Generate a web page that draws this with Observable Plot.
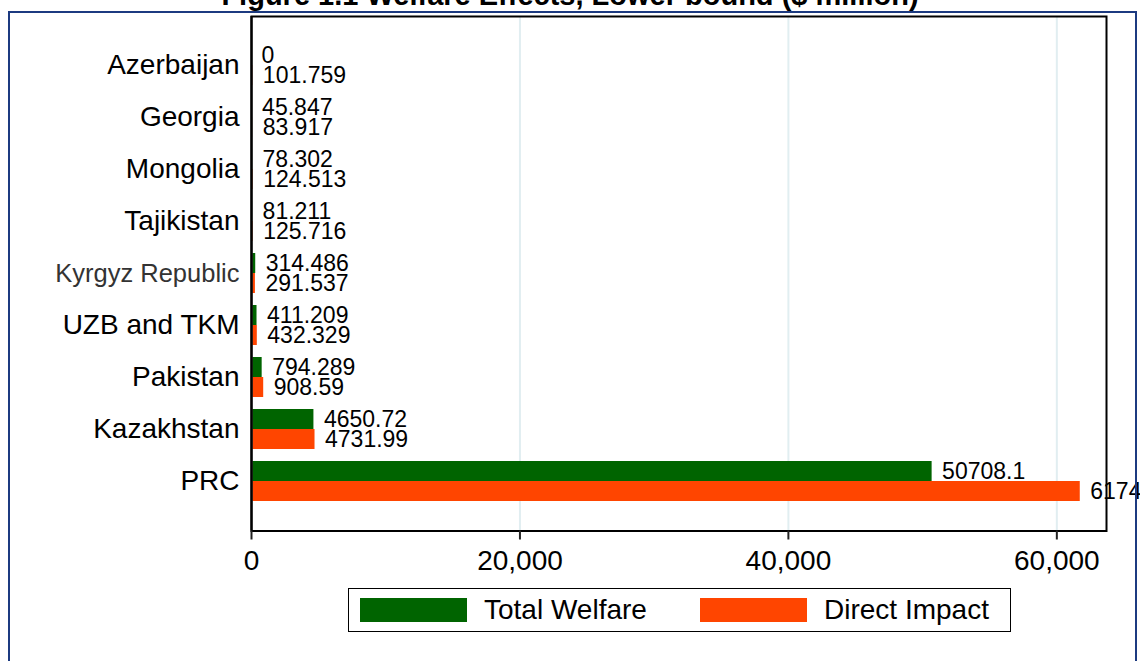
<!DOCTYPE html>
<html>
<head>
<meta charset="utf-8">
<script src="https://cdn.jsdelivr.net/npm/d3@7"></script>
<script src="https://cdn.jsdelivr.net/npm/@observablehq/plot@0.6"></script>
<style>
  html, body { margin: 0; padding: 0; background: #fff; overflow: hidden; }
  #wrap { position: relative; width: 1140px; height: 661px; overflow: hidden; font-family: "Liberation Sans", Arial, sans-serif; }
  #title { position: absolute; left: 0; width: 1140px; top: -19.5px; line-height: 29px; font-size: 29px; font-weight: bold; text-align: center; color: #000; white-space: nowrap; }
  #border { position: absolute; left: 8px; top: 11px; width: 1125px; height: 700px; border: 2px solid #1c3a80; pointer-events: none; }
  #chart { position: absolute; left: 0; top: 0; }
  #legend { position: absolute; left: 348px; top: 588px; width: 661px; height: 42px; border: 1.5px solid #000; background: #fff; }
  .sw { position: absolute; top: 9px; width: 107px; height: 24px; }
  .lt { position: absolute; top: 0; line-height: 42px; font-size: 28px; color: #000; white-space: nowrap; }
</style>
</head>
<body>
<div id="wrap">
  <div id="chart"></div>
  <div id="title"></div>
  <div id="legend"></div>
  <div id="border"></div>
</div>
<script>
const titleText = "Figure 1.1 Welfare Effects, Lower bound ($ million)";
const countries = ["Azerbaijan", "Georgia", "Mongolia", "Tajikistan", "Kyrgyz Republic", "UZB and TKM", "Pakistan", "Kazakhstan", "PRC"];
const totalWelfare = [0, 45.847, 78.302, 81.211, 314.486, 411.209, 794.289, 4650.72, 50708.1];
const directImpact = [101.759, 83.917, 124.513, 125.716, 291.537, 432.329, 908.59, 4731.99, 61745.6];
const seriesNames = ["Total Welfare", "Direct Impact"];
const seriesColors = ["#006400", "#ff4500"];
const xTicks = [0, 20000, 40000, 60000];

const rows = countries.map((c, i) => ({country: c, total: totalWelfare[i], direct: directImpact[i]}));

document.getElementById("title").textContent = titleText;

const chart = Plot.plot({
  width: 1140,
  height: 580,
  marginLeft: 251,
  marginRight: 34,
  marginTop: 16,
  marginBottom: 49.5,
  x: {domain: [0, 63700]},
  y: {domain: countries, paddingInner: 0.232, paddingOuter: 0.537},
  style: {fontFamily: "'Liberation Sans', Arial, sans-serif", background: "transparent", color: "#000"},
  marks: [
    Plot.gridX(xTicks.slice(1), {stroke: "#e1eef1", strokeOpacity: 1, strokeWidth: 2}),
    Plot.barX(rows, {x: "total", y: "country", fill: seriesColors[0], insetBottom: 20}),
    Plot.barX(rows, {x: "direct", y: "country", fill: seriesColors[1], insetTop: 20}),
    Plot.text(rows, {x: "total", y: "country", text: d => String(d.total), dy: -10, dx: 10, textAnchor: "start", fontSize: 23, fill: "#000"}),
    Plot.text(rows, {x: "direct", y: "country", text: d => String(d.direct), dy: 10, dx: 10, textAnchor: "start", fontSize: 23, fill: "#000"}),
    Plot.ruleX([0], {stroke: "#333", strokeWidth: 2.5}),
    Plot.frame({stroke: "#000", strokeWidth: 2}),
    Plot.axisX(xTicks, {tickFormat: d3.format(","), tickSize: 9, tickPadding: 10.5, fontSize: 28, stroke: "#222", strokeWidth: 2, label: null}),
    Plot.axisY(countries.filter(c => c !== "Kyrgyz Republic"), {tickSize: 0, tickPadding: 12, fontSize: 28, label: null}),
    Plot.axisY(["Kyrgyz Republic"], {tickSize: 0, tickPadding: 12, fontSize: 25.5, fill: "#333", label: null})
  ]
});
document.getElementById("chart").appendChild(chart);

const legend = document.getElementById("legend");
const swLeft = [11, 351];
const txLeft = [135, 475];
seriesNames.forEach((name, i) => {
  const sw = document.createElement("div");
  sw.className = "sw";
  sw.style.left = swLeft[i] + "px";
  sw.style.background = seriesColors[i];
  legend.appendChild(sw);
  const t = document.createElement("div");
  t.className = "lt";
  t.style.left = txLeft[i] + "px";
  t.textContent = name;
  legend.appendChild(t);
});
</script>
</body>
</html>
